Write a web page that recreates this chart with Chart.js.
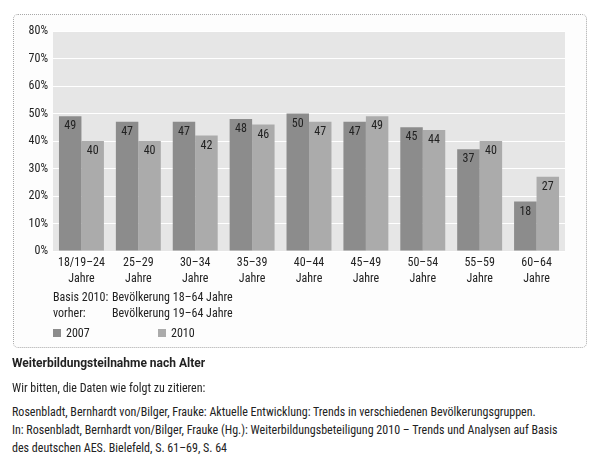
<!DOCTYPE html>
<html><head><meta charset="utf-8">
<script src="https://cdn.jsdelivr.net/npm/chart.js@4/dist/chart.umd.min.js"></script>
<style>
html,body{margin:0;padding:0;background:#fff;width:600px;height:472px;overflow:hidden;}
body{font-family:"Roboto Condensed",sans-serif;color:#222;font-size:12px;position:relative;}
#box{position:absolute;left:13px;top:14px;width:572px;height:332px;border:1px dotted #a8a8a8;border-radius:5px;background:#fdfdfd;}
#c{position:absolute;left:13px;top:14px;}
.t{position:absolute;white-space:nowrap;line-height:14px;}
.sq{position:absolute;width:8px;height:8px;}
</style></head><body>
<div id="box"></div>
<canvas id="c" width="573" height="333"></canvas>
<div class="t" style="left:53px;top:290px">Basis 2010:</div>
<div class="t" style="left:112px;top:290px">Bevölkerung 18–64 Jahre</div>
<div class="t" style="left:53px;top:306px">vorher:</div>
<div class="t" style="left:112px;top:306px">Bevölkerung 19–64 Jahre</div>
<div class="sq" style="left:53px;top:329px;background:#8c8c8c"></div>
<div class="t" style="left:66px;top:326px">2007</div>
<div class="sq" style="left:158px;top:329px;background:#ababab"></div>
<div class="t" style="left:171px;top:326px">2010</div>
<div class="t" style="left:12px;top:356px;font-weight:bold;font-family:Roboto,sans-serif">Weiterbildungsteilnahme nach Alter</div>
<div class="t" style="left:12px;top:381px">Wir bitten, die Daten wie folgt zu zitieren:</div>
<div class="t" style="left:12px;top:405px">Rosenbladt, Bernhardt von/Bilger, Frauke: Aktuelle Entwicklung: Trends in verschiedenen Bevölkerungsgruppen.</div>
<div class="t" style="left:12px;top:423px">In: Rosenbladt, Bernhardt von/Bilger, Frauke (Hg.): Weiterbildungsbeteiligung 2010 – Trends und Analysen auf Basis</div>
<div class="t" style="left:12px;top:441px">des deutschen AES. Bielefeld, S. 61–69, S. 64</div>
<script>
const categories = [["18/19–24","Jahre"],["25–29","Jahre"],["30–34","Jahre"],["35–39","Jahre"],["40–44","Jahre"],["45–49","Jahre"],["50–54","Jahre"],["55–59","Jahre"],["60–64","Jahre"]];
const values2007 = [49,47,47,48,50,47,45,37,18];
const values2010 = [40,40,42,46,47,49,44,40,27];
const yTicks = [0,10,20,30,40,50,60,70,80];

const FONT = "'Roboto Condensed',sans-serif";

const bgPlugin = {
  id:'bg',
  beforeDraw(chart){
    const a = chart.chartArea, ctx = chart.ctx;
    ctx.save(); ctx.fillStyle = '#e6e6e6';
    ctx.fillRect(a.left, a.top, a.right-a.left, a.bottom-a.top);
    ctx.restore();
  }
};
const labelPlugin = {
  id:'vals',
  afterDatasetsDraw(chart){
    const ctx = chart.ctx;
    ctx.save();
    ctx.font = "12px " + FONT;
    ctx.fillStyle = '#222';
    ctx.textAlign = 'center';
    ctx.textBaseline = 'middle';
    chart.data.datasets.forEach((ds,i)=>{
      chart.getDatasetMeta(i).data.forEach((el,j)=>{
        ctx.fillText(String(ds.data[j]), el.x, el.y + 10);
      });
    });
    ctx.restore();
  }
};

new Chart(document.getElementById('c'), {
  type:'bar',
  data:{
    labels: categories,
    datasets:[
      {label:'2007', data: values2007, backgroundColor:'#8c8c8c', borderWidth:0},
      {label:'2010', data: values2010, backgroundColor:'#ababab', borderWidth:0}
    ]
  },
  options:{
    responsive:false, animation:false, devicePixelRatio:1,
    layout:{padding:{top:17,right:21,left:0,bottom:56}},
    categoryPercentage:0.79, barPercentage:1,
    plugins:{legend:{display:false}, tooltip:{enabled:false}},
    scales:{
      y:{
        min:0, max:80,
        afterBuildTicks(s){ s.ticks = yTicks.map(v=>({value:v})); },
        afterFit(s){ s.width = 40; },
        ticks:{callback:v=>v+'%', font:{family:FONT,size:12}, color:'#222', padding:5},
        grid:{color:'#ffffff', lineWidth:1, drawTicks:false},
        border:{display:false}
      },
      x:{
        afterFit(s){ s.height = 40; },
        ticks:{font:{family:FONT,size:12,lineHeight:1.33}, color:'#222', padding:4, maxRotation:0, autoSkip:false},
        grid:{display:false, drawTicks:false},
        border:{display:false}
      }
    }
  },
  plugins:[bgPlugin, labelPlugin]
});
</script>
</body></html>
